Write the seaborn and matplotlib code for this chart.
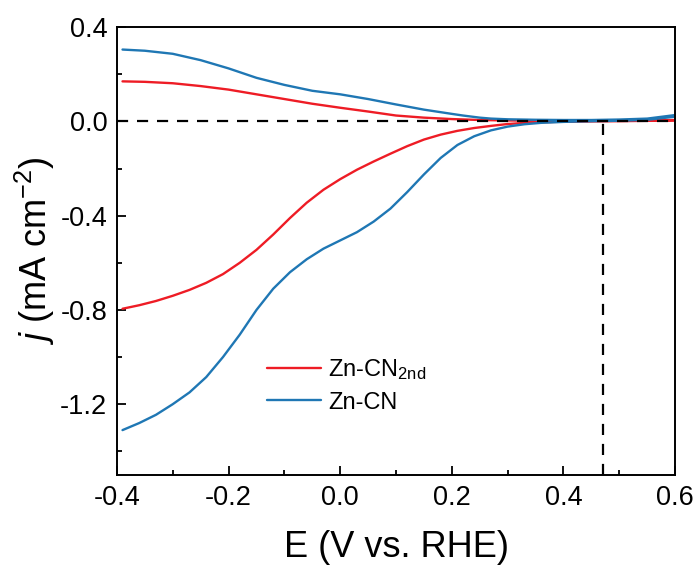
import matplotlib
matplotlib.use("Agg")
import matplotlib.pyplot as plt
import seaborn as sns
import pandas as pd
from matplotlib.ticker import MultipleLocator

sns.set_style("ticks")
plt.rcParams['font.family'] = ['Liberation Sans', 'DejaVu Sans']
plt.rcParams['mathtext.fontset'] = 'custom'
plt.rcParams['mathtext.rm'] = 'Liberation Sans'
plt.rcParams['mathtext.it'] = 'Liberation Sans:italic'
plt.rcParams['text.color'] = 'black'
plt.rcParams['axes.labelcolor'] = 'black'
plt.rcParams['xtick.color'] = 'black'
plt.rcParams['ytick.color'] = 'black'

# Zn-CN (blue): cathodic (lower) branch, then return (upper) branch
cn_lower_E = [-0.39, -0.36, -0.33, -0.30, -0.27, -0.24, -0.21, -0.18, -0.15, -0.12, -0.09,
              -0.06, -0.03, 0.0, 0.03, 0.06, 0.09, 0.12, 0.15, 0.18, 0.21, 0.24, 0.27,
              0.30, 0.33, 0.36, 0.40, 0.45, 0.50, 0.55, 0.60]
cn_lower_j = [-1.31, -1.28, -1.245, -1.20, -1.15, -1.085, -1.00, -0.905, -0.80, -0.71, -0.64,
              -0.585, -0.54, -0.505, -0.47, -0.425, -0.37, -0.30, -0.225, -0.155, -0.10, -0.063, -0.038,
              -0.022, -0.012, -0.006, -0.002, 0.001, 0.003, 0.007, 0.02]
cn_upper_E = [0.60, 0.55, 0.50, 0.45, 0.40, 0.35, 0.30, 0.27, 0.25, 0.22, 0.20, 0.15, 0.10, 0.05, 0.0,
              -0.05, -0.10, -0.15, -0.20, -0.25, -0.30, -0.35, -0.39]
cn_upper_j = [0.027, 0.012, 0.008, 0.006, 0.006, 0.007, 0.009, 0.012, 0.016, 0.025, 0.032, 0.05, 0.072,
              0.095, 0.115, 0.13, 0.155, 0.185, 0.225, 0.26, 0.287, 0.30, 0.305]

# Zn-CN2nd (red)
cn2_lower_E = [-0.39, -0.36, -0.33, -0.30, -0.27, -0.24, -0.21, -0.18, -0.15, -0.12, -0.09,
               -0.06, -0.03, 0.0, 0.03, 0.06, 0.09, 0.12, 0.15, 0.18, 0.21, 0.24, 0.27,
               0.30, 0.34, 0.40, 0.50, 0.60]
cn2_lower_j = [-0.795, -0.78, -0.762, -0.74, -0.715, -0.685, -0.648, -0.60, -0.545, -0.48, -0.41,
               -0.345, -0.29, -0.245, -0.205, -0.17, -0.137, -0.105, -0.077, -0.056, -0.04, -0.028, -0.019,
               -0.011, -0.005, -0.001, 0.001, 0.004]
cn2_upper_E = [0.60, 0.50, 0.40, 0.30, 0.25, 0.20, 0.15, 0.10, 0.05, 0.0, -0.05, -0.10, -0.15,
               -0.20, -0.25, -0.30, -0.35, -0.39]
cn2_upper_j = [0.006, 0.003, 0.002, 0.004, 0.006, 0.01, 0.016, 0.025, 0.042, 0.058, 0.075, 0.095, 0.115,
               0.135, 0.15, 0.162, 0.168, 0.17]

labels = ["Zn-CN$_{\\mathrm{2nd}}$", "Zn-CN"]
colors = ["#ee1c25", "#1f77b4"]
onset_E = 0.47

rows = []
for E, j in zip(cn2_lower_E + cn2_upper_E, cn2_lower_j + cn2_upper_j):
    rows.append((E, j, labels[0]))
for E, j in zip(cn_lower_E + cn_upper_E, cn_lower_j + cn_upper_j):
    rows.append((E, j, labels[1]))
df = pd.DataFrame(rows, columns=["E", "j", "sample"])

fig = plt.figure(figsize=(6.96, 5.66), dpi=100)
ax = fig.add_axes([0.168, 0.161, 0.802, 0.791])

sns.lineplot(data=df, x="E", y="j", hue="sample", hue_order=labels,
             palette=colors, sort=False, estimator=None, linewidth=1.7, ax=ax)

ax.set_xlim(-0.4, 0.6)
ax.set_ylim(-1.5, 0.4)
ax.axhline(0, color="black", linestyle=(0, (5, 4)), linewidth=1.6, zorder=5)
ax.plot([onset_E, onset_E], [-1.5, 0], color="black", linestyle=(0, (5, 4)), linewidth=1.6, zorder=5)

ax.xaxis.set_minor_locator(MultipleLocator(0.1))
ax.yaxis.set_minor_locator(MultipleLocator(0.2))
ax.set_xticks([-0.4, -0.2, 0.0, 0.2, 0.4, 0.6])
ax.set_xticklabels(["-0.4", "-0.2", "0.0", "0.2", "0.4", "0.6"])
ax.set_yticks([-1.2, -0.8, -0.4, 0.0, 0.4])
ax.set_yticklabels(["-1.2", "-0.8", "-0.4", "0.0", "0.4"])
ax.tick_params(which="major", direction="in", length=6.5, width=1.3, labelsize=19.5, pad=7)
ax.tick_params(which="minor", direction="in", length=3.5, width=1.3)
for s in ax.spines.values():
    s.set_linewidth(1.4)
    s.set_color("black")

ax.set_xlabel("E (V vs. RHE)", fontsize=26, labelpad=14)
ax.set_ylabel(r"$\mathit{j}$ (mA cm$^{-2}$)", fontsize=26, labelpad=2)

leg = ax.legend(loc="upper left", bbox_to_anchor=(0.23, 0.31), frameon=False,
                fontsize=17, handlelength=2.3, handletextpad=0.3, labelspacing=0.4)
for line in leg.get_lines():
    line.set_linewidth(1.7)

fig.savefig("out.png", dpi=100)
